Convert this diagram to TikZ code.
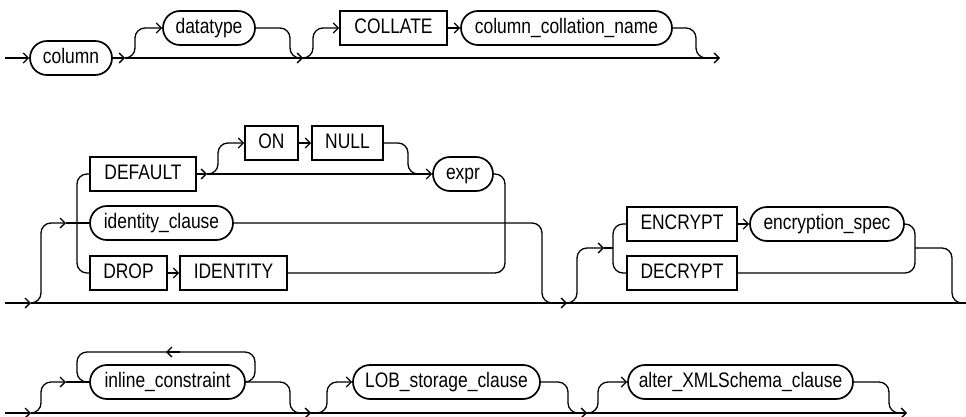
\documentclass[tikz,border=0pt]{standalone}
\usepackage{fontspec}
\setmainfont{Liberation Sans}[FakeStretch=0.83]
\usetikzlibrary{arrows.meta}
\tikzset{
  boxbase/.style={draw, line width=1.7pt, minimum height=34pt, inner xsep=0pt, inner ysep=0pt,
    text height=15.5pt, text depth=4.5pt, font=\fontsize{21}{25}\selectfont},
  rr/.style={boxbase, rounded corners=17pt},
  kw/.style={boxbase, sharp corners},
  ln/.style={line width=1.3pt, rounded corners=10pt},
  ar/.style={ln, -{Straight Barb[length=5pt,width=10pt]}},
}
\begin{document}
\begin{tikzpicture}[x=1pt,y=-1pt]
\useasboundingbox (0,0) rectangle (966,417);
% ---------- row 1
\node[rr, minimum width=82pt]  (column)   at (71,58)    {column};
\node[rr, minimum width=92pt]  (datatype) at (209,28)   {datatype};
\node[kw, minimum width=107pt] (collate)  at (393.5,28) {COLLATE};
\node[rr, minimum width=211pt] (ccn)      at (566.5,28) {column\_collation\_name};
\coordinate (r1s) at (5,58);
\coordinate (r1a) at (125,58);
\coordinate (r1b) at (303,58);
\coordinate (r1e) at (720,58);
\draw[ar] (r1s) -- (column.west);
\draw[ar] (column.east) -- (r1a);
\draw[ar] (r1a) -- (r1e);
\draw[ar] (r1a) -- (135,58) -- (135,28) -- (datatype.west);
\draw[ar] (datatype.east) -- (290,28) -- (290,58) -- (r1b);
\draw[ar] (r1b) -- (313,58) -- (313,28) -- (collate.west);
\draw[ar] (collate.east) -- (ccn.west);
\draw[ln] (ccn.east) -- (696,28) -- (696,58) -- (707,58);
% ---------- row 2
\node[kw, minimum width=106pt] (default)  at (143,174)   {DEFAULT};
\node[kw, minimum width=53pt]  (on)       at (271.5,143) {ON};
\node[kw, minimum width=71pt]  (null)     at (347.5,143) {NULL};
\node[rr, minimum width=60pt]  (expr)     at (463,174)   {expr};
\node[rr, minimum width=143pt] (identity) at (161.5,223) {identity\_clause};
\node[kw, minimum width=77pt]  (drop)     at (128.5,273) {DROP};
\node[kw, minimum width=107pt] (ident)    at (233.5,273) {IDENTITY};
\node[kw, minimum width=110pt] (encrypt)  at (682,224)   {ENCRYPT};
\node[rr, minimum width=154pt] (encspec)  at (827,224)   {encryption\_spec};
\node[kw, minimum width=110pt] (decrypt)  at (682,273)   {DECRYPT};
\coordinate (r2s) at (5,303);
\coordinate (r2a) at (31,303);
\coordinate (r2e) at (966,303);
\coordinate (r2i) at (66,223);
\coordinate (r2d) at (207,174);
\coordinate (r2j) at (567,303);
\coordinate (r2k) at (604,248);
\draw[ar] (r2s) -- (r2a);
\draw[ln] (r2a) -- (r2e);
\draw[ar] (r2a) -- (41,303) -- (41,223) -- (r2i);
\draw[ln] (r2i) -- (identity.west);
\draw[ln] (default.west) -- (77,174) -- (77,273) -- (drop.west);
\draw[ar] (default.east) -- (r2d);
\draw[ar] (r2d) -- (expr.west);
\draw[ar] (r2d) -- (218,174) -- (218,143) -- (on.west);
\draw[ar] (on.east) -- (null.west);
\draw[ln] (null.east) -- (408,143) -- (408,174) -- (418,174);
\draw[ln] (expr.east) -- (505,174) -- (505,273) -- (ident.east);
\draw[ar] (drop.east) -- (ident.west);
\draw[ar] (identity.east) -- (542,223) -- (542,303) -- (r2j);
\draw[ar] (r2j) -- (577,303) -- (577,248) -- (r2k);
\draw[ln] (r2k) -- (613,248);
\draw[ln] (encrypt.west) -- (613,224) -- (613,273) -- (decrypt.west);
\draw[ar] (encrypt.east) -- (encspec.west);
\draw[ln] (encspec.east) -- (915,224) -- (915,273) -- (decrypt.east);
\draw[ln] (915,248) -- (952,248) -- (952,303) -- (r2e);
% ---------- row 3
\node[rr, minimum width=155pt] (inline) at (167.5,382) {inline\_constraint};
\node[rr, minimum width=187pt] (lob)    at (446.5,382) {LOB\_storage\_clause};
\node[rr, minimum width=225pt] (alter)  at (740.5,382) {alter\_XMLSchema\_clause};
\coordinate (r3s) at (5,413);
\coordinate (r3a) at (31,413);
\coordinate (r3e) at (907,413);
\coordinate (r3i) at (66,382);
\coordinate (r3b) at (311,413);
\coordinate (r3c) at (587,413);
\coordinate (lpa) at (180,352);
\coordinate (lpb) at (166,352);
\draw[ar] (r3s) -- (r3a);
\draw[ar] (r3a) -- (r3e);
\draw[ar] (r3a) -- (41,413) -- (41,382) -- (r3i);
\draw[ln] (r3i) -- (inline.west);
\draw[ln] (inline.east) -- (255,382) -- (255,352) -- (77,352) -- (77,382) -- (inline.west);
\draw[ar] (lpa) -- (lpb);
\draw[ar] (inline.east) -- (290,382) -- (290,413) -- (r3b);
\draw[ar] (r3b) -- (327,413) -- (327,382) -- (lob.west);
\draw[ar] (lob.east) -- (568,382) -- (568,413) -- (r3c);
\draw[ar] (r3c) -- (598,413) -- (598,382) -- (alter.west);
\draw[ln] (alter.east) -- (889,382) -- (889,413) -- (900,413);
\end{tikzpicture}
\end{document}
